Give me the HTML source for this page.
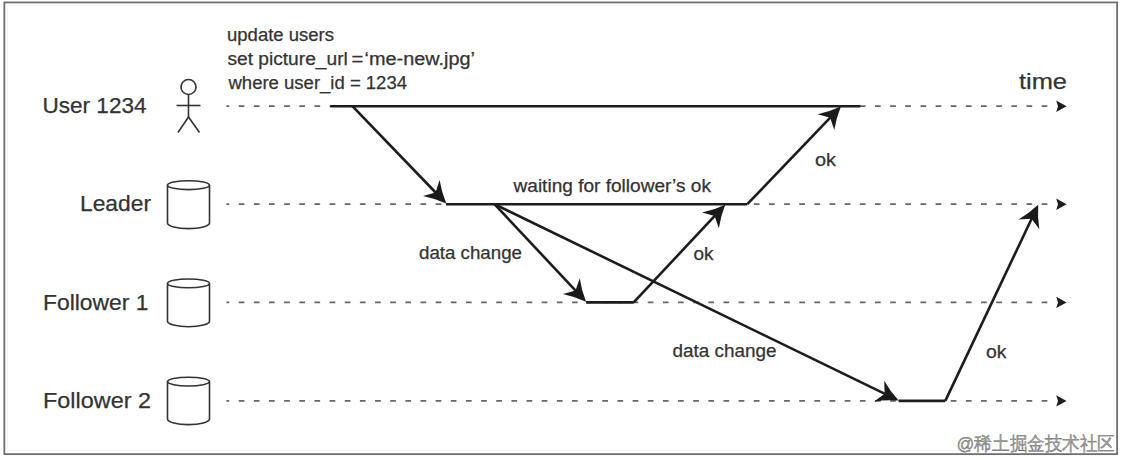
<!DOCTYPE html>
<html><head><meta charset="utf-8">
<style>
html,body{margin:0;padding:0;background:#fff;}
body{width:1122px;height:460px;overflow:hidden;position:relative;}
svg{position:absolute;left:0;top:0;}
text{font-family:"Liberation Sans",sans-serif;fill:#333;stroke:#333;stroke-width:0.25px;}
</style></head><body>
<svg width="1122" height="460" viewBox="0 0 1122 460">
<rect x="4.35" y="2.43" width="1112.75" height="451.7" fill="none" stroke="#6e6e6e" stroke-width="1.8"/>
<g stroke="#666" stroke-width="1.8" stroke-dasharray="5.7 9.45" stroke-dashoffset="2.85" fill="none">
<line x1="226.4" y1="106.2" x2="1050" y2="106.2"/>
<line x1="226.4" y1="204.2" x2="1050" y2="204.2"/>
<line x1="226.4" y1="302.4" x2="1050" y2="302.4"/>
<line x1="226.4" y1="400.9" x2="1050" y2="400.9"/>
</g>
<g fill="#1e1e1e">
<path d="M1066.6,106.2 L1056.2,100.5 L1058,106.2 L1056.2,111.9 Z"/>
<path d="M1066.6,204.2 L1056.2,198.5 L1058,204.2 L1056.2,209.9 Z"/>
<path d="M1066.6,302.4 L1056.2,296.7 L1058,302.4 L1056.2,308.1 Z"/>
<path d="M1066.6,400.9 L1056.2,395.2 L1058,400.9 L1056.2,406.6 Z"/>
</g>
<g stroke="#1c1c1c" stroke-width="2.6" fill="none" stroke-linejoin="round" stroke-linecap="butt">
<line x1="330.2" y1="106.2" x2="860.4" y2="106.2"/>
<line x1="446" y1="204.2" x2="747.3" y2="204.2"/>
<line x1="586.1" y1="302.4" x2="633.7" y2="302.4"/>
<line x1="898.6" y1="400.9" x2="945.3" y2="400.9"/>
<line x1="352.4" y1="106.2" x2="436.58" y2="193.52"/>
<line x1="747.3" y1="204.2" x2="831.21" y2="116.61"/>
<line x1="494.5" y1="204.2" x2="576.52" y2="291.59"/>
<line x1="633.7" y1="302.4" x2="715.63" y2="214.92"/>
<line x1="494.5" y1="204.2" x2="886.01" y2="394.38"/>
<line x1="945.3" y1="400.9" x2="1032.21" y2="217.45"/>
</g>
<path d="M446.30,203.60 Q435.10,198.48 423.03,196.03 L435.54,192.44 L439.59,180.07 Q441.60,192.22 446.30,203.60 Z" fill="#1a1a1a"/>
<path d="M840.90,106.50 Q836.23,117.90 834.26,130.05 L830.18,117.69 L817.65,114.14 Q829.71,111.65 840.90,106.50 Z" fill="#1a1a1a"/>
<path d="M586.10,301.80 Q574.97,296.53 562.93,293.92 L575.49,290.50 L579.70,278.18 Q581.55,290.36 586.10,301.80 Z" fill="#1a1a1a"/>
<path d="M725.20,204.70 Q720.66,216.15 718.83,228.33 L714.60,216.01 L702.04,212.60 Q714.07,209.98 725.20,204.70 Z" fill="#1a1a1a"/>
<path d="M898.60,400.50 Q886.32,399.55 874.15,401.41 L884.66,393.73 L884.20,380.72 Q890.27,391.43 898.60,400.50 Z" fill="#1a1a1a"/>
<path d="M1038.20,204.80 Q1037.37,217.09 1039.35,229.24 L1031.56,218.81 L1018.56,219.40 Q1029.21,213.22 1038.20,204.80 Z" fill="#1a1a1a"/>
<rect x="7.5" y="5.3" width="1106.5" height="445.5" fill="none" stroke="#f3f3f3" stroke-width="1"/>
<g stroke="#333" stroke-width="1.6" fill="none">
<circle cx="188.5" cy="87" r="7.5"/>
<line x1="188.5" y1="94.5" x2="188.5" y2="117"/>
<line x1="176.5" y1="105.5" x2="200.5" y2="105.5"/>
<polyline points="178,132.5 188.5,117 199.5,132.5"/>
</g>
<g stroke="#333" stroke-width="1.6" fill="none">
<ellipse cx="188.5" cy="185.2" rx="21" ry="4.4"/>
<path d="M167.5,185.2 L167.5,223.1 A21,5.5 0 0 0 209.5,223.1 L209.5,185.2"/>
<ellipse cx="188.5" cy="283.4" rx="21" ry="4.4"/>
<path d="M167.5,283.4 L167.5,321.2 A21,5.5 0 0 0 209.5,321.2 L209.5,283.4"/>
<ellipse cx="188.5" cy="381.6" rx="21" ry="4.4"/>
<path d="M167.5,381.6 L167.5,419.1 A21,5.5 0 0 0 209.5,419.1 L209.5,381.6"/>
</g>
<text x="42.5" y="113" font-size="22.5" textLength="104" lengthAdjust="spacingAndGlyphs">User 1234</text>
<text x="80" y="211.3" font-size="22.5" textLength="71" lengthAdjust="spacingAndGlyphs">Leader</text>
<text x="43" y="309.7" font-size="22.5" textLength="105.5" lengthAdjust="spacingAndGlyphs">Follower 1</text>
<text x="43" y="407.9" font-size="22.5" textLength="108" lengthAdjust="spacingAndGlyphs">Follower 2</text>
<text x="1019" y="88.9" font-size="22.5" textLength="48" lengthAdjust="spacingAndGlyphs">time</text>
<text x="227" y="40.5" font-size="17.5" textLength="107" lengthAdjust="spacingAndGlyphs">update users</text>
<text x="227.4" y="65.1" font-size="17.5" textLength="120.4" lengthAdjust="spacingAndGlyphs">set picture_url</text>
<text x="351.4" y="65.1" font-size="17.5" textLength="11.8" lengthAdjust="spacingAndGlyphs">=</text>
<text x="364.6" y="65.1" font-size="17.5" textLength="110.4" lengthAdjust="spacingAndGlyphs">‘me-new.jpg’</text>
<text x="228.5" y="89.2" font-size="17.5" textLength="178.5" lengthAdjust="spacingAndGlyphs">where user_id = 1234</text>
<text x="513.5" y="192.4" font-size="17.5" textLength="197.5" lengthAdjust="spacingAndGlyphs">waiting for follower’s ok</text>
<text x="419" y="258.7" font-size="17.5" textLength="103" lengthAdjust="spacingAndGlyphs">data change</text>
<text x="672.5" y="356.8" font-size="17.5" textLength="104" lengthAdjust="spacingAndGlyphs">data change</text>
<text x="815" y="166.4" font-size="17.5" textLength="21" lengthAdjust="spacingAndGlyphs">ok</text>
<text x="693.5" y="259.5" font-size="17.5" textLength="20" lengthAdjust="spacingAndGlyphs">ok</text>
<text x="986" y="357.5" font-size="17.5" textLength="20.5" lengthAdjust="spacingAndGlyphs">ok</text>
<text x="956.5" y="450.3" font-size="19" textLength="158.5" lengthAdjust="spacingAndGlyphs" style="fill:#a4a4a4">@稀土掘金技术社区</text>
</svg>
</body></html>
